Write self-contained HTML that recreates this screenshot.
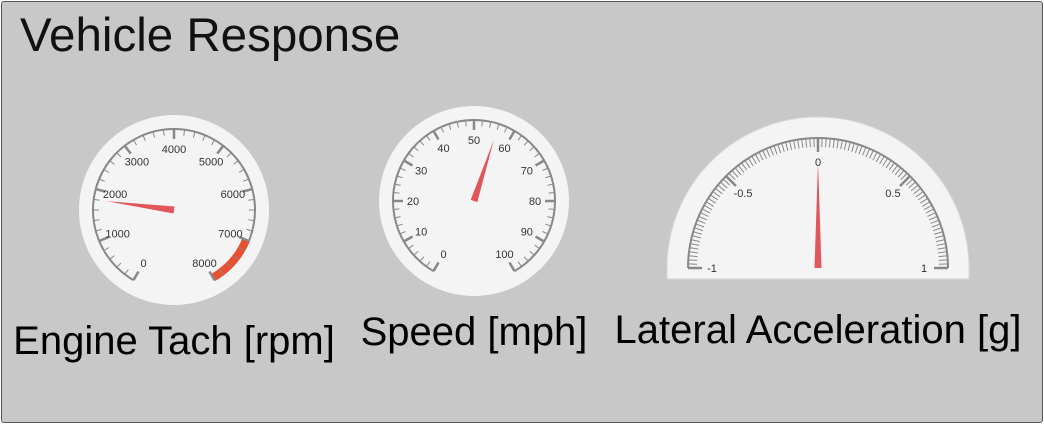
<!DOCTYPE html>
<html><head><meta charset="utf-8"><style>
html,body{margin:0;padding:0;width:1044px;height:424px;overflow:hidden;background:#fff}
#panel{position:absolute;left:1px;top:1px;width:1040px;height:420px;background:#c8c8c8;border:1px solid #555;border-radius:3px}
</style></head><body>
<div id="panel"></div>
<svg id="svg" width="1044" height="424" style="position:absolute;left:0;top:0" font-family="'Liberation Sans', sans-serif">
<text x="20" y="51" font-size="47.5" fill="#111">Vehicle Response</text>
<text x="174" y="354" font-size="40" fill="#000" text-anchor="middle">Engine Tach [rpm]</text>
<text x="474" y="345" font-size="40" fill="#000" text-anchor="middle">Speed [mph]</text>
<text x="818" y="343" font-size="40" fill="#000" text-anchor="middle">Lateral Acceleration [g]</text>
</svg>
<script>
const tachValue = [1800];
const speedValue = [56];
const latValue = [0];
const tachTicks = [0,1000,2000,3000,4000,5000,6000,7000,8000];
const speedTicks = [0,10,20,30,40,50,60,70,80,90,100];
const latTicks = [-1,-0.5,0,0.5,1];
const latTickLabels = ['-1','-0.5','0','0.5','1'];

const svg = document.getElementById('svg');
const NS = 'http://www.w3.org/2000/svg';
function mk(tag, attrs){const e=document.createElementNS(NS,tag);for(const k in attrs)e.setAttribute(k,attrs[k]);svg.appendChild(e);return e;}
function pt(cx,cy,r,a){const t=a*Math.PI/180;return [cx+r*Math.sin(t),cy-r*Math.cos(t)];}

function gauge(o){
  const {cx,cy,r,min,max,a0,a1,ticks,labels,minor,value,name}=o;
  const ang=v=>a0+(a1-a0)*(v-min)/(max-min);
  if(o.semi){
    const bg=mk('path',{d:`M${cx-151} ${cy+11} L${cx-151} ${cy} A151 151 0 0 1 ${cx+151} ${cy} L${cx+151} ${cy+11} Z`,fill:'#f4f4f4',stroke:'#d8d8d8','stroke-width':1});
    
    
  } else {
    const bg=mk('circle',{cx,cy,r:95,fill:'#f4f4f4'});
    
    
  }
  const p0=pt(cx,cy,r,a0),p1=pt(cx,cy,r,a1);
  const large=(a1-a0)>180?1:0;
  mk('path',{d:`M${p0[0]} ${p0[1]} A${r} ${r} 0 ${large} 1 ${p1[0]} ${p1[1]}`,fill:'none',stroke:'#888','stroke-width':2});
  if(o.red){
    const q0=pt(cx,cy,r-3,ang(o.red[0])),q1=pt(cx,cy,r-3,ang(o.red[1]));
    const band=mk('path',{d:`M${q0[0]} ${q0[1]} A${r-3} ${r-3} 0 0 1 ${q1[0]} ${q1[1]}`,fill:'none',stroke:'#e8502f','stroke-width':8});
    
    
  }
  const step=(ticks[1]-ticks[0])/minor;
  const n=Math.round((max-min)/step);
  for(let i=0;i<=n;i++){
    const v=min+i*step;const a=ang(v);const major=i%minor===0;
    const len=major?(o.semi?14:10):(o.semi?9:6);
    const s=pt(cx,cy,r,a),e=pt(cx,cy,r-len,a);
    mk('line',{x1:s[0],y1:s[1],x2:e[0],y2:e[1],stroke:'#888','stroke-width':major?2.5:1});
  }
  ticks.forEach((v,i)=>{
    const a=ang(v);const p=pt(cx,cy,o.lr,a);
    const t=mk('text',{x:p[0],y:p[1]+4,'font-size':o.fs,'text-anchor':'middle',fill:'#333'});
    t.textContent=labels[i];
    
    
  });
  const a=ang(value);const tip=pt(cx,cy,o.nl,a);
  const b1=pt(cx,cy,o.nw,a-90),b2=pt(cx,cy,o.nw,a+90);
  const nd=mk('polygon',{points:`${tip[0]},${tip[1]} ${b1[0]},${b1[1]} ${b2[0]},${b2[1]}`,fill:'#e0565b'});
  
  
}
gauge({name:'tach',cx:174,cy:210,r:81,min:0,max:8000,a0:-150,a1:150,ticks:tachTicks,labels:tachTicks.map(String),minor:5,value:tachValue[0],lr:61,fs:11,nl:68,nw:3.5,red:[7000,8000]});
gauge({name:'speed',cx:474,cy:201,r:81,min:0,max:100,a0:-150,a1:150,ticks:speedTicks,labels:speedTicks.map(String),minor:5,value:speedValue[0],lr:61,fs:11,nl:64,nw:3.5});
gauge({name:'lateral',semi:true,cx:818,cy:268,r:130,min:-1,max:1,a0:-90,a1:90,ticks:latTicks,labels:latTickLabels,minor:25,value:latValue[0],lr:106,fs:11,nl:106,nw:3.5});
</script>
</body></html>
